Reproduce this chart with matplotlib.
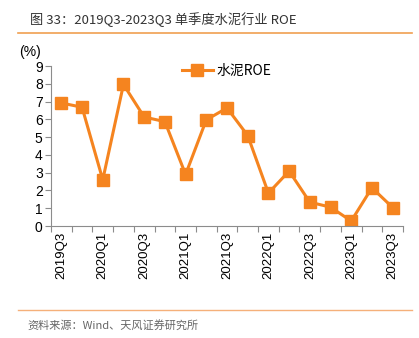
import matplotlib.pyplot as plt
from matplotlib.lines import Line2D

plt.rcParams['font.family'] = ['Noto Sans CJK SC', 'DejaVu Sans']

quarters = ["2019Q3", "2019Q4", "2020Q1", "2020Q2", "2020Q3", "2020Q4",
            "2021Q1", "2021Q2", "2021Q3", "2021Q4", "2022Q1", "2022Q2",
            "2022Q3", "2022Q4", "2023Q1", "2023Q2", "2023Q3"]
roe = [6.92, 6.68, 2.6, 7.96, 6.13, 5.87, 2.9, 5.97, 6.64, 5.09,
       1.85, 3.09, 1.34, 1.06, 0.28, 2.15, 1.04]

orange = "#F5841F"
gray = "#8c8c8c"

fig = plt.figure(figsize=(4.19, 3.38), dpi=100)
ax = fig.add_axes([51 / 419, 1 - 226 / 338, 352 / 419, 160 / 338])

x = list(range(len(quarters)))
ax.plot(x, roe, color=orange, lw=2.2, marker="s", ms=8, mec=orange, mfc=orange)

ax.set_xlim(-0.5, len(quarters) - 0.5)
ax.set_ylim(0, 9)
ax.set_yticks(range(10))
# major ticks sit between categories, labels on every other quarter
ax.set_xticks([i + 0.5 for i in range(-1, len(quarters))], minor=False)
ax.set_xticklabels([])
ax.set_xticks(x[::2], minor=True)
ax.set_xticklabels(quarters[::2], minor=True, rotation=90, fontsize=9.5,
                   family=['Liberation Sans', 'DejaVu Sans'])
ax.tick_params(axis="x", which="minor", length=0, pad=4)
ax.tick_params(axis="x", which="major", length=4, color=gray, direction="out")
ax.tick_params(axis="y", length=4, color=gray, labelsize=10, pad=2)
for lab in ax.get_yticklabels():
    lab.set_family(['Liberation Sans', 'DejaVu Sans'])

for s in ["top", "right"]:
    ax.spines[s].set_visible(False)
ax.spines["left"].set_color(gray)
ax.spines["bottom"].set_color(gray)

ax.text(-0.06, 1.045, "(%)", transform=ax.transAxes, fontsize=10,
        ha="center", va="bottom", family=['Liberation Sans', 'DejaVu Sans'])

handle = Line2D([], [], color=orange, lw=2.2, marker="s", ms=8)
ax.legend([handle], ["水泥ROE"], loc="upper center", bbox_to_anchor=(0.5, 1.09),
          frameon=False, fontsize=10, handlelength=2.2, handletextpad=0.3)

fig.text(30 / 419, 1 - 20 / 338, "图 33：2019Q3-2023Q3 单季度水泥行业 ROE",
         fontsize=9.5, color="#333333", va="center", ha="left")
fig.add_artist(Line2D([18 / 419, 412 / 419], [1 - 33 / 338, 1 - 33 / 338],
                      color="#F0A050", lw=1.2))
fig.add_artist(Line2D([18 / 419, 412 / 419], [1 - 310 / 338, 1 - 310 / 338],
                      color="#F5B07A", lw=1.0))
fig.text(27 / 419, 1 - 325 / 338, "资料来源：Wind、天风证券研究所",
         fontsize=8, color="#666666", va="center", ha="left")

fig.savefig("out.png", dpi=100)
